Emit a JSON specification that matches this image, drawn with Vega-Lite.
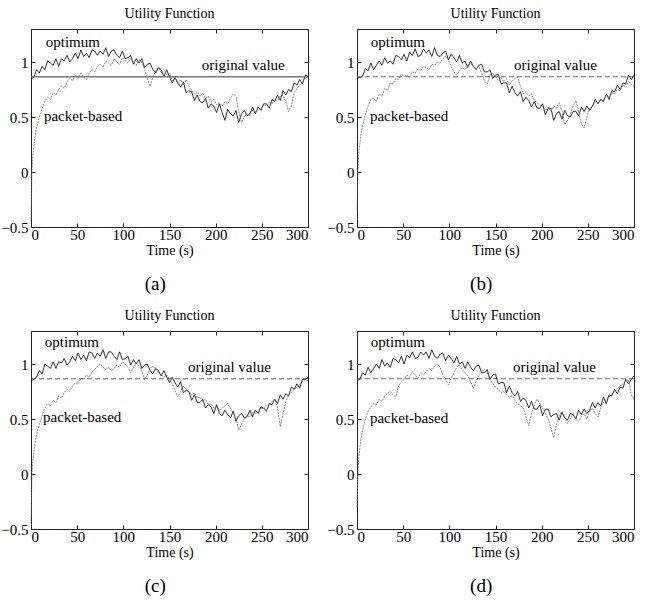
{
"$schema": "https://vega.github.io/schema/vega-lite/v6.json",
"background": "white",
"padding": {"left": 0, "top": 6, "right": 0, "bottom": 0},
"config": {
  "font": "Liberation Serif",
  "view": {"stroke": "#222", "strokeWidth": 1},
  "axis": {"grid": false, "domain": false, "tickSize": -4, "tickColor": "#222", "labelFont": "Liberation Serif", "labelFontSize": 15, "labelColor": "black", "titleFont": "Liberation Serif", "titleFontSize": 14, "titleFontWeight": "normal", "titleColor": "black", "labelPadding": 7, "titlePadding": 1},
  "axisX": {"labelPadding": 4},
  "title": {"font": "Liberation Serif", "fontSize": 14, "fontWeight": "normal", "color": "black", "offset": 8, "anchor": "middle"},
  "text": {"font": "Liberation Serif", "fontSize": 15, "color": "black"}
},
"datasets": {
"opt": [
{"p":"a","t":0,"v":0.85},{"p":"a","t":3,"v":0.86},{"p":"a","t":6,"v":0.93},{"p":"a","t":9,"v":0.9},{"p":"a","t":12,"v":0.96},{"p":"a","t":15,"v":0.93},{"p":"a","t":18,"v":1.01},{"p":"a","t":21,"v":0.99},{"p":"a","t":24,"v":0.97},{"p":"a","t":27,"v":1.03},{"p":"a","t":30,"v":0.96},{"p":"a","t":33,"v":1.03},{"p":"a","t":36,"v":1.01},{"p":"a","t":39,"v":1.06},{"p":"a","t":42,"v":1.0},{"p":"a","t":45,"v":1.03},{"p":"a","t":48,"v":1.08},{"p":"a","t":51,"v":1.03},{"p":"a","t":54,"v":1.11},{"p":"a","t":57,"v":1.05},{"p":"a","t":60,"v":1.08},{"p":"a","t":63,"v":1.04},{"p":"a","t":66,"v":1.11},{"p":"a","t":69,"v":1.1},{"p":"a","t":72,"v":1.06},{"p":"a","t":75,"v":1.1},{"p":"a","t":78,"v":1.07},{"p":"a","t":81,"v":1.13},{"p":"a","t":84,"v":1.05},{"p":"a","t":87,"v":1.1},{"p":"a","t":90,"v":1.11},{"p":"a","t":93,"v":1.06},{"p":"a","t":96,"v":1.04},{"p":"a","t":99,"v":1.1},{"p":"a","t":102,"v":1.03},{"p":"a","t":105,"v":1.04},{"p":"a","t":108,"v":1.06},{"p":"a","t":111,"v":0.98},{"p":"a","t":114,"v":1.03},{"p":"a","t":117,"v":0.99},{"p":"a","t":120,"v":1.03},{"p":"a","t":123,"v":0.95},{"p":"a","t":126,"v":0.98},{"p":"a","t":129,"v":0.99},{"p":"a","t":132,"v":0.93},{"p":"a","t":135,"v":0.9},{"p":"a","t":138,"v":0.95},{"p":"a","t":141,"v":0.93},{"p":"a","t":144,"v":0.87},{"p":"a","t":147,"v":0.93},{"p":"a","t":150,"v":0.86},{"p":"a","t":153,"v":0.81},{"p":"a","t":156,"v":0.86},{"p":"a","t":159,"v":0.81},{"p":"a","t":162,"v":0.77},{"p":"a","t":165,"v":0.82},{"p":"a","t":168,"v":0.72},{"p":"a","t":171,"v":0.74},{"p":"a","t":174,"v":0.73},{"p":"a","t":177,"v":0.65},{"p":"a","t":180,"v":0.7},{"p":"a","t":183,"v":0.64},{"p":"a","t":186,"v":0.63},{"p":"a","t":189,"v":0.67},{"p":"a","t":192,"v":0.58},{"p":"a","t":195,"v":0.62},{"p":"a","t":198,"v":0.6},{"p":"a","t":201,"v":0.54},{"p":"a","t":204,"v":0.62},{"p":"a","t":207,"v":0.54},{"p":"a","t":210,"v":0.47},{"p":"a","t":213,"v":0.57},{"p":"a","t":216,"v":0.53},{"p":"a","t":219,"v":0.51},{"p":"a","t":222,"v":0.56},{"p":"a","t":225,"v":0.45},{"p":"a","t":228,"v":0.53},{"p":"a","t":231,"v":0.56},{"p":"a","t":234,"v":0.51},{"p":"a","t":237,"v":0.53},{"p":"a","t":240,"v":0.59},{"p":"a","t":243,"v":0.53},{"p":"a","t":246,"v":0.59},{"p":"a","t":249,"v":0.56},{"p":"a","t":252,"v":0.62},{"p":"a","t":255,"v":0.62},{"p":"a","t":258,"v":0.58},{"p":"a","t":261,"v":0.66},{"p":"a","t":264,"v":0.64},{"p":"a","t":267,"v":0.7},{"p":"a","t":270,"v":0.65},{"p":"a","t":273,"v":0.74},{"p":"a","t":276,"v":0.7},{"p":"a","t":279,"v":0.75},{"p":"a","t":282,"v":0.73},{"p":"a","t":285,"v":0.81},{"p":"a","t":288,"v":0.79},{"p":"a","t":291,"v":0.84},{"p":"a","t":294,"v":0.8},{"p":"a","t":297,"v":0.88},{"p":"a","t":300,"v":0.87},
{"p":"b","t":0,"v":0.85},{"p":"b","t":3,"v":0.86},{"p":"b","t":6,"v":0.87},{"p":"b","t":9,"v":0.94},{"p":"b","t":12,"v":0.92},{"p":"b","t":15,"v":0.99},{"p":"b","t":18,"v":0.93},{"p":"b","t":21,"v":0.97},{"p":"b","t":24,"v":1.01},{"p":"b","t":27,"v":0.97},{"p":"b","t":30,"v":1.04},{"p":"b","t":33,"v":0.99},{"p":"b","t":36,"v":1.01},{"p":"b","t":39,"v":0.98},{"p":"b","t":42,"v":1.06},{"p":"b","t":45,"v":1.05},{"p":"b","t":48,"v":1.02},{"p":"b","t":51,"v":1.07},{"p":"b","t":54,"v":1.01},{"p":"b","t":57,"v":1.09},{"p":"b","t":60,"v":1.06},{"p":"b","t":63,"v":1.12},{"p":"b","t":66,"v":1.05},{"p":"b","t":69,"v":1.06},{"p":"b","t":72,"v":1.12},{"p":"b","t":75,"v":1.08},{"p":"b","t":78,"v":1.11},{"p":"b","t":81,"v":1.05},{"p":"b","t":84,"v":1.13},{"p":"b","t":87,"v":1.06},{"p":"b","t":90,"v":1.05},{"p":"b","t":93,"v":1.08},{"p":"b","t":96,"v":1.1},{"p":"b","t":99,"v":1.02},{"p":"b","t":102,"v":1.07},{"p":"b","t":105,"v":1.04},{"p":"b","t":108,"v":1.0},{"p":"b","t":111,"v":1.06},{"p":"b","t":114,"v":0.99},{"p":"b","t":117,"v":1.01},{"p":"b","t":120,"v":0.95},{"p":"b","t":123,"v":1.01},{"p":"b","t":126,"v":0.96},{"p":"b","t":129,"v":0.93},{"p":"b","t":132,"v":0.97},{"p":"b","t":135,"v":0.98},{"p":"b","t":138,"v":0.91},{"p":"b","t":141,"v":0.91},{"p":"b","t":144,"v":0.93},{"p":"b","t":147,"v":0.85},{"p":"b","t":150,"v":0.88},{"p":"b","t":153,"v":0.89},{"p":"b","t":156,"v":0.8},{"p":"b","t":159,"v":0.81},{"p":"b","t":162,"v":0.81},{"p":"b","t":165,"v":0.72},{"p":"b","t":168,"v":0.78},{"p":"b","t":171,"v":0.72},{"p":"b","t":174,"v":0.69},{"p":"b","t":177,"v":0.73},{"p":"b","t":180,"v":0.64},{"p":"b","t":183,"v":0.68},{"p":"b","t":186,"v":0.65},{"p":"b","t":189,"v":0.59},{"p":"b","t":192,"v":0.64},{"p":"b","t":195,"v":0.58},{"p":"b","t":198,"v":0.58},{"p":"b","t":201,"v":0.62},{"p":"b","t":204,"v":0.52},{"p":"b","t":207,"v":0.58},{"p":"b","t":210,"v":0.58},{"p":"b","t":213,"v":0.47},{"p":"b","t":216,"v":0.53},{"p":"b","t":219,"v":0.55},{"p":"b","t":222,"v":0.48},{"p":"b","t":225,"v":0.56},{"p":"b","t":228,"v":0.51},{"p":"b","t":231,"v":0.5},{"p":"b","t":234,"v":0.55},{"p":"b","t":237,"v":0.55},{"p":"b","t":240,"v":0.51},{"p":"b","t":243,"v":0.59},{"p":"b","t":246,"v":0.55},{"p":"b","t":249,"v":0.6},{"p":"b","t":252,"v":0.56},{"p":"b","t":255,"v":0.6},{"p":"b","t":258,"v":0.66},{"p":"b","t":261,"v":0.62},{"p":"b","t":264,"v":0.66},{"p":"b","t":267,"v":0.64},{"p":"b","t":270,"v":0.71},{"p":"b","t":273,"v":0.66},{"p":"b","t":276,"v":0.74},{"p":"b","t":279,"v":0.73},{"p":"b","t":282,"v":0.79},{"p":"b","t":285,"v":0.75},{"p":"b","t":288,"v":0.81},{"p":"b","t":291,"v":0.8},{"p":"b","t":294,"v":0.88},{"p":"b","t":297,"v":0.84},{"p":"b","t":300,"v":0.88},
{"p":"c","t":0,"v":0.85},{"p":"c","t":3,"v":0.86},{"p":"c","t":6,"v":0.88},{"p":"c","t":9,"v":0.94},{"p":"c","t":12,"v":0.91},{"p":"c","t":15,"v":1.0},{"p":"c","t":18,"v":0.98},{"p":"c","t":21,"v":0.96},{"p":"c","t":24,"v":1.02},{"p":"c","t":27,"v":0.96},{"p":"c","t":30,"v":1.02},{"p":"c","t":33,"v":1.01},{"p":"c","t":36,"v":1.05},{"p":"c","t":39,"v":0.99},{"p":"c","t":42,"v":1.02},{"p":"c","t":45,"v":1.07},{"p":"c","t":48,"v":1.03},{"p":"c","t":51,"v":1.1},{"p":"c","t":54,"v":1.04},{"p":"c","t":57,"v":1.08},{"p":"c","t":60,"v":1.03},{"p":"c","t":63,"v":1.11},{"p":"c","t":66,"v":1.1},{"p":"c","t":69,"v":1.05},{"p":"c","t":72,"v":1.1},{"p":"c","t":75,"v":1.07},{"p":"c","t":78,"v":1.13},{"p":"c","t":81,"v":1.05},{"p":"c","t":84,"v":1.11},{"p":"c","t":87,"v":1.11},{"p":"c","t":90,"v":1.07},{"p":"c","t":93,"v":1.04},{"p":"c","t":96,"v":1.11},{"p":"c","t":99,"v":1.04},{"p":"c","t":102,"v":1.05},{"p":"c","t":105,"v":1.07},{"p":"c","t":108,"v":0.99},{"p":"c","t":111,"v":1.04},{"p":"c","t":114,"v":1.0},{"p":"c","t":117,"v":1.04},{"p":"c","t":120,"v":0.96},{"p":"c","t":123,"v":0.99},{"p":"c","t":126,"v":1.0},{"p":"c","t":129,"v":0.94},{"p":"c","t":132,"v":0.91},{"p":"c","t":135,"v":0.96},{"p":"c","t":138,"v":0.94},{"p":"c","t":141,"v":0.89},{"p":"c","t":144,"v":0.94},{"p":"c","t":147,"v":0.88},{"p":"c","t":150,"v":0.83},{"p":"c","t":153,"v":0.88},{"p":"c","t":156,"v":0.83},{"p":"c","t":159,"v":0.79},{"p":"c","t":162,"v":0.84},{"p":"c","t":165,"v":0.74},{"p":"c","t":168,"v":0.76},{"p":"c","t":171,"v":0.75},{"p":"c","t":174,"v":0.67},{"p":"c","t":177,"v":0.72},{"p":"c","t":180,"v":0.65},{"p":"c","t":183,"v":0.65},{"p":"c","t":186,"v":0.68},{"p":"c","t":189,"v":0.6},{"p":"c","t":192,"v":0.63},{"p":"c","t":195,"v":0.61},{"p":"c","t":198,"v":0.55},{"p":"c","t":201,"v":0.63},{"p":"c","t":204,"v":0.55},{"p":"c","t":207,"v":0.53},{"p":"c","t":210,"v":0.58},{"p":"c","t":213,"v":0.54},{"p":"c","t":216,"v":0.51},{"p":"c","t":219,"v":0.57},{"p":"c","t":222,"v":0.48},{"p":"c","t":225,"v":0.53},{"p":"c","t":228,"v":0.55},{"p":"c","t":231,"v":0.51},{"p":"c","t":234,"v":0.52},{"p":"c","t":237,"v":0.58},{"p":"c","t":240,"v":0.52},{"p":"c","t":243,"v":0.58},{"p":"c","t":246,"v":0.55},{"p":"c","t":249,"v":0.61},{"p":"c","t":252,"v":0.6},{"p":"c","t":255,"v":0.57},{"p":"c","t":258,"v":0.64},{"p":"c","t":261,"v":0.63},{"p":"c","t":264,"v":0.68},{"p":"c","t":267,"v":0.64},{"p":"c","t":270,"v":0.72},{"p":"c","t":273,"v":0.68},{"p":"c","t":276,"v":0.73},{"p":"c","t":279,"v":0.71},{"p":"c","t":282,"v":0.79},{"p":"c","t":285,"v":0.77},{"p":"c","t":288,"v":0.82},{"p":"c","t":291,"v":0.78},{"p":"c","t":294,"v":0.86},{"p":"c","t":297,"v":0.86},{"p":"c","t":300,"v":0.88},
{"p":"d","t":0,"v":0.85},{"p":"d","t":3,"v":0.86},{"p":"d","t":6,"v":0.92},{"p":"d","t":9,"v":0.9},{"p":"d","t":12,"v":0.97},{"p":"d","t":15,"v":0.92},{"p":"d","t":18,"v":0.96},{"p":"d","t":21,"v":1.0},{"p":"d","t":24,"v":0.96},{"p":"d","t":27,"v":1.04},{"p":"d","t":30,"v":0.98},{"p":"d","t":33,"v":1.01},{"p":"d","t":36,"v":0.97},{"p":"d","t":39,"v":1.05},{"p":"d","t":42,"v":1.04},{"p":"d","t":45,"v":1.01},{"p":"d","t":48,"v":1.07},{"p":"d","t":51,"v":1.0},{"p":"d","t":54,"v":1.08},{"p":"d","t":57,"v":1.06},{"p":"d","t":60,"v":1.11},{"p":"d","t":63,"v":1.05},{"p":"d","t":66,"v":1.06},{"p":"d","t":69,"v":1.11},{"p":"d","t":72,"v":1.08},{"p":"d","t":75,"v":1.11},{"p":"d","t":78,"v":1.05},{"p":"d","t":81,"v":1.13},{"p":"d","t":84,"v":1.07},{"p":"d","t":87,"v":1.05},{"p":"d","t":90,"v":1.09},{"p":"d","t":93,"v":1.1},{"p":"d","t":96,"v":1.03},{"p":"d","t":99,"v":1.08},{"p":"d","t":102,"v":1.05},{"p":"d","t":105,"v":1.01},{"p":"d","t":108,"v":1.07},{"p":"d","t":111,"v":1.0},{"p":"d","t":114,"v":1.02},{"p":"d","t":117,"v":0.96},{"p":"d","t":120,"v":1.02},{"p":"d","t":123,"v":0.97},{"p":"d","t":126,"v":0.94},{"p":"d","t":129,"v":0.98},{"p":"d","t":132,"v":0.99},{"p":"d","t":135,"v":0.92},{"p":"d","t":138,"v":0.92},{"p":"d","t":141,"v":0.95},{"p":"d","t":144,"v":0.86},{"p":"d","t":147,"v":0.9},{"p":"d","t":150,"v":0.91},{"p":"d","t":153,"v":0.82},{"p":"d","t":156,"v":0.83},{"p":"d","t":159,"v":0.83},{"p":"d","t":162,"v":0.74},{"p":"d","t":165,"v":0.8},{"p":"d","t":168,"v":0.74},{"p":"d","t":171,"v":0.71},{"p":"d","t":174,"v":0.75},{"p":"d","t":177,"v":0.66},{"p":"d","t":180,"v":0.69},{"p":"d","t":183,"v":0.67},{"p":"d","t":186,"v":0.6},{"p":"d","t":189,"v":0.66},{"p":"d","t":192,"v":0.59},{"p":"d","t":195,"v":0.59},{"p":"d","t":198,"v":0.63},{"p":"d","t":201,"v":0.53},{"p":"d","t":204,"v":0.59},{"p":"d","t":207,"v":0.59},{"p":"d","t":210,"v":0.52},{"p":"d","t":213,"v":0.54},{"p":"d","t":216,"v":0.55},{"p":"d","t":219,"v":0.49},{"p":"d","t":222,"v":0.56},{"p":"d","t":225,"v":0.51},{"p":"d","t":228,"v":0.49},{"p":"d","t":231,"v":0.55},{"p":"d","t":234,"v":0.54},{"p":"d","t":237,"v":0.5},{"p":"d","t":240,"v":0.58},{"p":"d","t":243,"v":0.54},{"p":"d","t":246,"v":0.59},{"p":"d","t":249,"v":0.55},{"p":"d","t":252,"v":0.58},{"p":"d","t":255,"v":0.65},{"p":"d","t":258,"v":0.6},{"p":"d","t":261,"v":0.65},{"p":"d","t":264,"v":0.62},{"p":"d","t":267,"v":0.7},{"p":"d","t":270,"v":0.64},{"p":"d","t":273,"v":0.72},{"p":"d","t":276,"v":0.71},{"p":"d","t":279,"v":0.77},{"p":"d","t":282,"v":0.73},{"p":"d","t":285,"v":0.79},{"p":"d","t":288,"v":0.78},{"p":"d","t":291,"v":0.86},{"p":"d","t":294,"v":0.82},{"p":"d","t":297,"v":0.86},{"p":"d","t":300,"v":0.89}
],
"pkt": [
{"p":"a","t":0,"v":-0.45},{"p":"a","t":1,"v":0.0},{"p":"a","t":2,"v":0.15},{"p":"a","t":4,"v":0.3},{"p":"a","t":6,"v":0.4},{"p":"a","t":9,"v":0.5},{"p":"a","t":12,"v":0.58},{"p":"a","t":15,"v":0.64},{"p":"a","t":18,"v":0.68},{"p":"a","t":21,"v":0.66},{"p":"a","t":24,"v":0.72},{"p":"a","t":27,"v":0.7},{"p":"a","t":30,"v":0.75},{"p":"a","t":33,"v":0.78},{"p":"a","t":36,"v":0.76},{"p":"a","t":39,"v":0.82},{"p":"a","t":42,"v":0.85},{"p":"a","t":45,"v":0.83},{"p":"a","t":48,"v":0.88},{"p":"a","t":51,"v":0.85},{"p":"a","t":54,"v":0.9},{"p":"a","t":57,"v":0.86},{"p":"a","t":60,"v":0.84},{"p":"a","t":63,"v":0.9},{"p":"a","t":66,"v":0.93},{"p":"a","t":69,"v":0.91},{"p":"a","t":72,"v":0.96},{"p":"a","t":75,"v":0.98},{"p":"a","t":78,"v":0.95},{"p":"a","t":81,"v":1.01},{"p":"a","t":84,"v":0.99},{"p":"a","t":87,"v":0.97},{"p":"a","t":90,"v":1.03},{"p":"a","t":93,"v":1.0},{"p":"a","t":96,"v":0.98},{"p":"a","t":99,"v":1.04},{"p":"a","t":102,"v":1.01},{"p":"a","t":105,"v":0.99},{"p":"a","t":108,"v":1.03},{"p":"a","t":111,"v":1.0},{"p":"a","t":114,"v":0.97},{"p":"a","t":117,"v":1.02},{"p":"a","t":120,"v":1.0},{"p":"a","t":123,"v":0.93},{"p":"a","t":126,"v":0.85},{"p":"a","t":129,"v":0.78},{"p":"a","t":132,"v":0.86},{"p":"a","t":135,"v":0.92},{"p":"a","t":138,"v":0.95},{"p":"a","t":141,"v":0.9},{"p":"a","t":144,"v":0.93},{"p":"a","t":147,"v":0.88},{"p":"a","t":150,"v":0.9},{"p":"a","t":153,"v":0.83},{"p":"a","t":156,"v":0.86},{"p":"a","t":159,"v":0.8},{"p":"a","t":162,"v":0.84},{"p":"a","t":165,"v":0.79},{"p":"a","t":168,"v":0.84},{"p":"a","t":171,"v":0.78},{"p":"a","t":174,"v":0.74},{"p":"a","t":177,"v":0.71},{"p":"a","t":180,"v":0.73},{"p":"a","t":183,"v":0.69},{"p":"a","t":186,"v":0.72},{"p":"a","t":189,"v":0.67},{"p":"a","t":192,"v":0.69},{"p":"a","t":195,"v":0.64},{"p":"a","t":198,"v":0.66},{"p":"a","t":201,"v":0.61},{"p":"a","t":204,"v":0.63},{"p":"a","t":207,"v":0.6},{"p":"a","t":210,"v":0.64},{"p":"a","t":213,"v":0.62},{"p":"a","t":216,"v":0.67},{"p":"a","t":219,"v":0.71},{"p":"a","t":222,"v":0.69},{"p":"a","t":225,"v":0.55},{"p":"a","t":228,"v":0.45},{"p":"a","t":231,"v":0.5},{"p":"a","t":234,"v":0.53},{"p":"a","t":237,"v":0.51},{"p":"a","t":240,"v":0.56},{"p":"a","t":243,"v":0.54},{"p":"a","t":246,"v":0.59},{"p":"a","t":249,"v":0.57},{"p":"a","t":252,"v":0.61},{"p":"a","t":255,"v":0.6},{"p":"a","t":258,"v":0.63},{"p":"a","t":261,"v":0.62},{"p":"a","t":264,"v":0.66},{"p":"a","t":267,"v":0.65},{"p":"a","t":270,"v":0.69},{"p":"a","t":273,"v":0.7},{"p":"a","t":276,"v":0.64},{"p":"a","t":279,"v":0.55},{"p":"a","t":282,"v":0.6},{"p":"a","t":285,"v":0.72},{"p":"a","t":288,"v":0.76},{"p":"a","t":291,"v":0.79},{"p":"a","t":294,"v":0.82},{"p":"a","t":297,"v":0.85},{"p":"a","t":300,"v":0.87},
{"p":"b","t":0,"v":-0.35},{"p":"b","t":1,"v":0.0},{"p":"b","t":2,"v":0.18},{"p":"b","t":4,"v":0.32},{"p":"b","t":6,"v":0.42},{"p":"b","t":9,"v":0.52},{"p":"b","t":12,"v":0.6},{"p":"b","t":15,"v":0.66},{"p":"b","t":18,"v":0.67},{"p":"b","t":21,"v":0.64},{"p":"b","t":24,"v":0.71},{"p":"b","t":27,"v":0.69},{"p":"b","t":30,"v":0.76},{"p":"b","t":33,"v":0.74},{"p":"b","t":36,"v":0.81},{"p":"b","t":39,"v":0.8},{"p":"b","t":42,"v":0.85},{"p":"b","t":45,"v":0.84},{"p":"b","t":48,"v":0.89},{"p":"b","t":51,"v":0.87},{"p":"b","t":54,"v":0.88},{"p":"b","t":57,"v":0.86},{"p":"b","t":60,"v":0.91},{"p":"b","t":63,"v":0.9},{"p":"b","t":66,"v":0.94},{"p":"b","t":69,"v":0.92},{"p":"b","t":72,"v":0.96},{"p":"b","t":75,"v":0.95},{"p":"b","t":78,"v":0.93},{"p":"b","t":81,"v":0.98},{"p":"b","t":84,"v":0.97},{"p":"b","t":87,"v":1.0},{"p":"b","t":90,"v":0.99},{"p":"b","t":93,"v":1.03},{"p":"b","t":96,"v":1.05},{"p":"b","t":99,"v":1.02},{"p":"b","t":102,"v":0.96},{"p":"b","t":105,"v":0.91},{"p":"b","t":108,"v":0.88},{"p":"b","t":111,"v":0.92},{"p":"b","t":114,"v":0.95},{"p":"b","t":117,"v":0.93},{"p":"b","t":120,"v":0.97},{"p":"b","t":123,"v":0.99},{"p":"b","t":126,"v":0.96},{"p":"b","t":129,"v":0.94},{"p":"b","t":132,"v":0.96},{"p":"b","t":135,"v":0.9},{"p":"b","t":138,"v":0.83},{"p":"b","t":141,"v":0.8},{"p":"b","t":144,"v":0.88},{"p":"b","t":147,"v":0.9},{"p":"b","t":150,"v":0.87},{"p":"b","t":153,"v":0.83},{"p":"b","t":156,"v":0.86},{"p":"b","t":159,"v":0.82},{"p":"b","t":162,"v":0.85},{"p":"b","t":165,"v":0.79},{"p":"b","t":168,"v":0.83},{"p":"b","t":171,"v":0.85},{"p":"b","t":174,"v":0.86},{"p":"b","t":177,"v":0.78},{"p":"b","t":180,"v":0.71},{"p":"b","t":183,"v":0.73},{"p":"b","t":186,"v":0.69},{"p":"b","t":189,"v":0.71},{"p":"b","t":192,"v":0.65},{"p":"b","t":195,"v":0.63},{"p":"b","t":198,"v":0.61},{"p":"b","t":201,"v":0.6},{"p":"b","t":204,"v":0.56},{"p":"b","t":207,"v":0.59},{"p":"b","t":210,"v":0.55},{"p":"b","t":213,"v":0.6},{"p":"b","t":216,"v":0.58},{"p":"b","t":219,"v":0.63},{"p":"b","t":222,"v":0.55},{"p":"b","t":225,"v":0.43},{"p":"b","t":228,"v":0.47},{"p":"b","t":231,"v":0.52},{"p":"b","t":234,"v":0.6},{"p":"b","t":237,"v":0.65},{"p":"b","t":240,"v":0.55},{"p":"b","t":243,"v":0.44},{"p":"b","t":246,"v":0.4},{"p":"b","t":249,"v":0.5},{"p":"b","t":252,"v":0.58},{"p":"b","t":255,"v":0.6},{"p":"b","t":258,"v":0.64},{"p":"b","t":261,"v":0.62},{"p":"b","t":264,"v":0.66},{"p":"b","t":267,"v":0.65},{"p":"b","t":270,"v":0.7},{"p":"b","t":273,"v":0.68},{"p":"b","t":276,"v":0.72},{"p":"b","t":279,"v":0.71},{"p":"b","t":282,"v":0.75},{"p":"b","t":285,"v":0.74},{"p":"b","t":288,"v":0.79},{"p":"b","t":291,"v":0.77},{"p":"b","t":294,"v":0.82},{"p":"b","t":297,"v":0.8},{"p":"b","t":300,"v":0.78},
{"p":"c","t":0,"v":-0.45},{"p":"c","t":1,"v":0.0},{"p":"c","t":2,"v":0.12},{"p":"c","t":4,"v":0.26},{"p":"c","t":6,"v":0.36},{"p":"c","t":9,"v":0.45},{"p":"c","t":12,"v":0.53},{"p":"c","t":15,"v":0.6},{"p":"c","t":18,"v":0.64},{"p":"c","t":21,"v":0.62},{"p":"c","t":24,"v":0.67},{"p":"c","t":27,"v":0.65},{"p":"c","t":30,"v":0.71},{"p":"c","t":33,"v":0.69},{"p":"c","t":36,"v":0.74},{"p":"c","t":39,"v":0.77},{"p":"c","t":42,"v":0.75},{"p":"c","t":45,"v":0.8},{"p":"c","t":48,"v":0.83},{"p":"c","t":51,"v":0.82},{"p":"c","t":54,"v":0.87},{"p":"c","t":57,"v":0.86},{"p":"c","t":60,"v":0.9},{"p":"c","t":63,"v":0.88},{"p":"c","t":66,"v":0.93},{"p":"c","t":69,"v":0.95},{"p":"c","t":72,"v":0.98},{"p":"c","t":75,"v":1.0},{"p":"c","t":78,"v":0.97},{"p":"c","t":81,"v":0.95},{"p":"c","t":84,"v":0.97},{"p":"c","t":87,"v":0.94},{"p":"c","t":90,"v":0.96},{"p":"c","t":93,"v":0.99},{"p":"c","t":96,"v":0.97},{"p":"c","t":99,"v":1.02},{"p":"c","t":102,"v":1.0},{"p":"c","t":105,"v":0.97},{"p":"c","t":108,"v":0.92},{"p":"c","t":111,"v":0.97},{"p":"c","t":114,"v":1.01},{"p":"c","t":117,"v":0.98},{"p":"c","t":120,"v":0.94},{"p":"c","t":123,"v":0.86},{"p":"c","t":126,"v":0.9},{"p":"c","t":129,"v":0.96},{"p":"c","t":132,"v":0.98},{"p":"c","t":135,"v":0.95},{"p":"c","t":138,"v":0.92},{"p":"c","t":141,"v":0.9},{"p":"c","t":144,"v":0.88},{"p":"c","t":147,"v":0.9},{"p":"c","t":150,"v":0.86},{"p":"c","t":153,"v":0.82},{"p":"c","t":156,"v":0.76},{"p":"c","t":159,"v":0.7},{"p":"c","t":162,"v":0.75},{"p":"c","t":165,"v":0.8},{"p":"c","t":168,"v":0.77},{"p":"c","t":171,"v":0.75},{"p":"c","t":174,"v":0.72},{"p":"c","t":177,"v":0.74},{"p":"c","t":180,"v":0.69},{"p":"c","t":183,"v":0.7},{"p":"c","t":186,"v":0.66},{"p":"c","t":189,"v":0.68},{"p":"c","t":192,"v":0.63},{"p":"c","t":195,"v":0.64},{"p":"c","t":198,"v":0.6},{"p":"c","t":201,"v":0.61},{"p":"c","t":204,"v":0.58},{"p":"c","t":207,"v":0.6},{"p":"c","t":210,"v":0.62},{"p":"c","t":213,"v":0.64},{"p":"c","t":216,"v":0.6},{"p":"c","t":219,"v":0.55},{"p":"c","t":222,"v":0.5},{"p":"c","t":225,"v":0.4},{"p":"c","t":228,"v":0.45},{"p":"c","t":231,"v":0.5},{"p":"c","t":234,"v":0.53},{"p":"c","t":237,"v":0.52},{"p":"c","t":240,"v":0.56},{"p":"c","t":243,"v":0.55},{"p":"c","t":246,"v":0.58},{"p":"c","t":249,"v":0.6},{"p":"c","t":252,"v":0.59},{"p":"c","t":255,"v":0.63},{"p":"c","t":258,"v":0.62},{"p":"c","t":261,"v":0.66},{"p":"c","t":264,"v":0.68},{"p":"c","t":267,"v":0.6},{"p":"c","t":270,"v":0.43},{"p":"c","t":273,"v":0.55},{"p":"c","t":276,"v":0.66},{"p":"c","t":279,"v":0.72},{"p":"c","t":282,"v":0.74},{"p":"c","t":285,"v":0.77},{"p":"c","t":288,"v":0.79},{"p":"c","t":291,"v":0.82},{"p":"c","t":294,"v":0.84},{"p":"c","t":297,"v":0.86},{"p":"c","t":300,"v":0.85},
{"p":"d","t":0,"v":-0.3},{"p":"d","t":1,"v":0.02},{"p":"d","t":2,"v":0.16},{"p":"d","t":4,"v":0.3},{"p":"d","t":6,"v":0.4},{"p":"d","t":9,"v":0.5},{"p":"d","t":12,"v":0.57},{"p":"d","t":15,"v":0.61},{"p":"d","t":18,"v":0.64},{"p":"d","t":21,"v":0.63},{"p":"d","t":24,"v":0.68},{"p":"d","t":27,"v":0.66},{"p":"d","t":30,"v":0.71},{"p":"d","t":33,"v":0.73},{"p":"d","t":36,"v":0.75},{"p":"d","t":39,"v":0.72},{"p":"d","t":42,"v":0.7},{"p":"d","t":45,"v":0.8},{"p":"d","t":48,"v":0.84},{"p":"d","t":51,"v":0.86},{"p":"d","t":54,"v":0.9},{"p":"d","t":57,"v":0.88},{"p":"d","t":60,"v":0.93},{"p":"d","t":63,"v":0.9},{"p":"d","t":66,"v":0.87},{"p":"d","t":69,"v":0.92},{"p":"d","t":72,"v":0.9},{"p":"d","t":75,"v":0.93},{"p":"d","t":78,"v":0.96},{"p":"d","t":81,"v":0.94},{"p":"d","t":84,"v":0.98},{"p":"d","t":87,"v":1.0},{"p":"d","t":90,"v":0.97},{"p":"d","t":93,"v":0.9},{"p":"d","t":96,"v":0.86},{"p":"d","t":99,"v":0.81},{"p":"d","t":102,"v":0.87},{"p":"d","t":105,"v":0.92},{"p":"d","t":108,"v":0.97},{"p":"d","t":111,"v":0.99},{"p":"d","t":114,"v":0.95},{"p":"d","t":117,"v":0.92},{"p":"d","t":120,"v":0.89},{"p":"d","t":123,"v":0.84},{"p":"d","t":126,"v":0.78},{"p":"d","t":129,"v":0.84},{"p":"d","t":132,"v":0.9},{"p":"d","t":135,"v":0.93},{"p":"d","t":138,"v":0.95},{"p":"d","t":141,"v":0.92},{"p":"d","t":144,"v":0.86},{"p":"d","t":147,"v":0.82},{"p":"d","t":150,"v":0.79},{"p":"d","t":153,"v":0.77},{"p":"d","t":156,"v":0.74},{"p":"d","t":159,"v":0.75},{"p":"d","t":162,"v":0.72},{"p":"d","t":165,"v":0.7},{"p":"d","t":168,"v":0.71},{"p":"d","t":171,"v":0.67},{"p":"d","t":174,"v":0.64},{"p":"d","t":177,"v":0.62},{"p":"d","t":180,"v":0.6},{"p":"d","t":183,"v":0.52},{"p":"d","t":186,"v":0.44},{"p":"d","t":189,"v":0.55},{"p":"d","t":192,"v":0.63},{"p":"d","t":195,"v":0.68},{"p":"d","t":198,"v":0.64},{"p":"d","t":201,"v":0.6},{"p":"d","t":204,"v":0.55},{"p":"d","t":207,"v":0.5},{"p":"d","t":210,"v":0.42},{"p":"d","t":213,"v":0.33},{"p":"d","t":216,"v":0.45},{"p":"d","t":219,"v":0.53},{"p":"d","t":222,"v":0.57},{"p":"d","t":225,"v":0.52},{"p":"d","t":228,"v":0.46},{"p":"d","t":231,"v":0.5},{"p":"d","t":234,"v":0.55},{"p":"d","t":237,"v":0.5},{"p":"d","t":240,"v":0.48},{"p":"d","t":243,"v":0.52},{"p":"d","t":246,"v":0.55},{"p":"d","t":249,"v":0.5},{"p":"d","t":252,"v":0.57},{"p":"d","t":255,"v":0.6},{"p":"d","t":258,"v":0.55},{"p":"d","t":261,"v":0.52},{"p":"d","t":264,"v":0.6},{"p":"d","t":267,"v":0.65},{"p":"d","t":270,"v":0.68},{"p":"d","t":273,"v":0.7},{"p":"d","t":276,"v":0.73},{"p":"d","t":279,"v":0.75},{"p":"d","t":282,"v":0.78},{"p":"d","t":285,"v":0.8},{"p":"d","t":288,"v":0.82},{"p":"d","t":291,"v":0.84},{"p":"d","t":294,"v":0.86},{"p":"d","t":297,"v":0.72},{"p":"d","t":300,"v":0.68}
],
"ref": [{"p":"a","v":0.866},{"p":"b","v":0.866},{"p":"c","v":0.866},{"p":"d","v":0.866}],
"lab": [
{"p":"a","t":16,"v":1.18,"label":"optimum"},{"p":"a","t":185,"v":0.97,"label":"original value"},{"p":"a","t":14,"v":0.51,"label":"packet-based"},
{"p":"b","t":15,"v":1.18,"label":"optimum"},{"p":"b","t":170,"v":0.97,"label":"original value"},{"p":"b","t":14,"v":0.51,"label":"packet-based"},
{"p":"c","t":15,"v":1.2,"label":"optimum"},{"p":"c","t":170,"v":0.975,"label":"original value"},{"p":"c","t":13,"v":0.515,"label":"packet-based"},
{"p":"d","t":15,"v":1.2,"label":"optimum"},{"p":"d","t":169,"v":0.97,"label":"original value"},{"p":"d","t":14,"v":0.51,"label":"packet-based"}
]
},
"spacing": 14,
"vconcat": [
{"spacing": 15, "hconcat": [
{"title": {"text": "(a)", "orient": "bottom", "fontSize": 19, "offset": 17}, "vconcat": [{
  "width": 277, "height": 198, "title": "Utility Function",
  "layer": [
    {"data": {"name": "opt"}, "transform": [{"filter": "datum.p == 'a'"}], "mark": {"type": "line", "color": "black", "strokeWidth": 0.8},
     "encoding": {"x": {"field": "t", "type": "quantitative", "title": "Time (s)", "scale": {"domain": [0, 300], "nice": false}, "axis": {"values": [0, 50, 100, 150, 200, 250, 300], "format": "d"}},
                  "y": {"field": "v", "type": "quantitative", "title": null, "scale": {"domain": [-0.5, 1.3], "nice": false}, "axis": {"values": [-0.5, 0, 0.5, 1], "format": "~g"}}}},
    {"data": {"name": "pkt"}, "transform": [{"filter": "datum.p == 'a'"}], "mark": {"type": "line", "color": "#666", "strokeWidth": 0.8, "strokeDash": [2, 1]},
     "encoding": {"x": {"field": "t", "type": "quantitative", "axis": null}, "y": {"field": "v", "type": "quantitative", "axis": null}}},
    {"data": {"name": "ref"}, "transform": [{"filter": "datum.p == 'a'"}], "mark": {"type": "rule", "color": "#777", "strokeWidth": 1.3},
     "encoding": {"y": {"field": "v", "type": "quantitative", "axis": null}}},
    {"data": {"name": "lab"}, "transform": [{"filter": "datum.p == 'a'"}], "mark": {"type": "text", "align": "left", "baseline": "middle"},
     "encoding": {"x": {"field": "t", "type": "quantitative", "axis": {"orient": "top", "labels": false, "title": null, "values": [0, 50, 100, 150, 200, 250, 300]}},
                  "y": {"field": "v", "type": "quantitative", "axis": {"orient": "right", "labels": false, "title": null, "values": [-0.5, 0, 0.5, 1]}},
                  "text": {"field": "label"}}}
  ],
  "resolve": {"axis": {"x": "independent", "y": "independent"}}
}]},
{"title": {"text": "(b)", "orient": "bottom", "fontSize": 19, "offset": 17}, "vconcat": [{
  "width": 277, "height": 198, "title": "Utility Function",
  "layer": [
    {"data": {"name": "opt"}, "transform": [{"filter": "datum.p == 'b'"}], "mark": {"type": "line", "color": "black", "strokeWidth": 0.8},
     "encoding": {"x": {"field": "t", "type": "quantitative", "title": "Time (s)", "scale": {"domain": [0, 300], "nice": false}, "axis": {"values": [0, 50, 100, 150, 200, 250, 300], "format": "d"}},
                  "y": {"field": "v", "type": "quantitative", "title": null, "scale": {"domain": [-0.5, 1.3], "nice": false}, "axis": {"values": [-0.5, 0, 0.5, 1], "format": "~g"}}}},
    {"data": {"name": "pkt"}, "transform": [{"filter": "datum.p == 'b'"}], "mark": {"type": "line", "color": "#666", "strokeWidth": 0.8, "strokeDash": [2, 1]},
     "encoding": {"x": {"field": "t", "type": "quantitative", "axis": null}, "y": {"field": "v", "type": "quantitative", "axis": null}}},
    {"data": {"name": "ref"}, "transform": [{"filter": "datum.p == 'b'"}], "mark": {"type": "rule", "color": "#444", "strokeWidth": 0.8, "strokeDash": [5, 3]},
     "encoding": {"y": {"field": "v", "type": "quantitative", "axis": null}}},
    {"data": {"name": "lab"}, "transform": [{"filter": "datum.p == 'b'"}], "mark": {"type": "text", "align": "left", "baseline": "middle"},
     "encoding": {"x": {"field": "t", "type": "quantitative", "axis": {"orient": "top", "labels": false, "title": null, "values": [0, 50, 100, 150, 200, 250, 300]}},
                  "y": {"field": "v", "type": "quantitative", "axis": {"orient": "right", "labels": false, "title": null, "values": [-0.5, 0, 0.5, 1]}},
                  "text": {"field": "label"}}}
  ],
  "resolve": {"axis": {"x": "independent", "y": "independent"}}
}]}
]},
{"spacing": 15, "hconcat": [
{"title": {"text": "(c)", "orient": "bottom", "fontSize": 19, "offset": 17}, "vconcat": [{
  "width": 277, "height": 198, "title": "Utility Function",
  "layer": [
    {"data": {"name": "opt"}, "transform": [{"filter": "datum.p == 'c'"}], "mark": {"type": "line", "color": "black", "strokeWidth": 0.8},
     "encoding": {"x": {"field": "t", "type": "quantitative", "title": "Time (s)", "scale": {"domain": [0, 300], "nice": false}, "axis": {"values": [0, 50, 100, 150, 200, 250, 300], "format": "d"}},
                  "y": {"field": "v", "type": "quantitative", "title": null, "scale": {"domain": [-0.5, 1.3], "nice": false}, "axis": {"values": [-0.5, 0, 0.5, 1], "format": "~g"}}}},
    {"data": {"name": "pkt"}, "transform": [{"filter": "datum.p == 'c'"}], "mark": {"type": "line", "color": "#666", "strokeWidth": 0.8, "strokeDash": [2, 1]},
     "encoding": {"x": {"field": "t", "type": "quantitative", "axis": null}, "y": {"field": "v", "type": "quantitative", "axis": null}}},
    {"data": {"name": "ref"}, "transform": [{"filter": "datum.p == 'c'"}], "mark": {"type": "rule", "color": "#444", "strokeWidth": 0.8, "strokeDash": [5, 3]},
     "encoding": {"y": {"field": "v", "type": "quantitative", "axis": null}}},
    {"data": {"name": "lab"}, "transform": [{"filter": "datum.p == 'c'"}], "mark": {"type": "text", "align": "left", "baseline": "middle"},
     "encoding": {"x": {"field": "t", "type": "quantitative", "axis": {"orient": "top", "labels": false, "title": null, "values": [0, 50, 100, 150, 200, 250, 300]}},
                  "y": {"field": "v", "type": "quantitative", "axis": {"orient": "right", "labels": false, "title": null, "values": [-0.5, 0, 0.5, 1]}},
                  "text": {"field": "label"}}}
  ],
  "resolve": {"axis": {"x": "independent", "y": "independent"}}
}]},
{"title": {"text": "(d)", "orient": "bottom", "fontSize": 19, "offset": 17}, "vconcat": [{
  "width": 277, "height": 198, "title": "Utility Function",
  "layer": [
    {"data": {"name": "opt"}, "transform": [{"filter": "datum.p == 'd'"}], "mark": {"type": "line", "color": "black", "strokeWidth": 0.8},
     "encoding": {"x": {"field": "t", "type": "quantitative", "title": "Time (s)", "scale": {"domain": [0, 300], "nice": false}, "axis": {"values": [0, 50, 100, 150, 200, 250, 300], "format": "d"}},
                  "y": {"field": "v", "type": "quantitative", "title": null, "scale": {"domain": [-0.5, 1.3], "nice": false}, "axis": {"values": [-0.5, 0, 0.5, 1], "format": "~g"}}}},
    {"data": {"name": "pkt"}, "transform": [{"filter": "datum.p == 'd'"}], "mark": {"type": "line", "color": "#666", "strokeWidth": 0.8, "strokeDash": [2, 1]},
     "encoding": {"x": {"field": "t", "type": "quantitative", "axis": null}, "y": {"field": "v", "type": "quantitative", "axis": null}}},
    {"data": {"name": "ref"}, "transform": [{"filter": "datum.p == 'd'"}], "mark": {"type": "rule", "color": "#444", "strokeWidth": 0.8, "strokeDash": [5, 3]},
     "encoding": {"y": {"field": "v", "type": "quantitative", "axis": null}}},
    {"data": {"name": "lab"}, "transform": [{"filter": "datum.p == 'd'"}], "mark": {"type": "text", "align": "left", "baseline": "middle"},
     "encoding": {"x": {"field": "t", "type": "quantitative", "axis": {"orient": "top", "labels": false, "title": null, "values": [0, 50, 100, 150, 200, 250, 300]}},
                  "y": {"field": "v", "type": "quantitative", "axis": {"orient": "right", "labels": false, "title": null, "values": [-0.5, 0, 0.5, 1]}},
                  "text": {"field": "label"}}}
  ],
  "resolve": {"axis": {"x": "independent", "y": "independent"}}
}]}
]}
]
}
